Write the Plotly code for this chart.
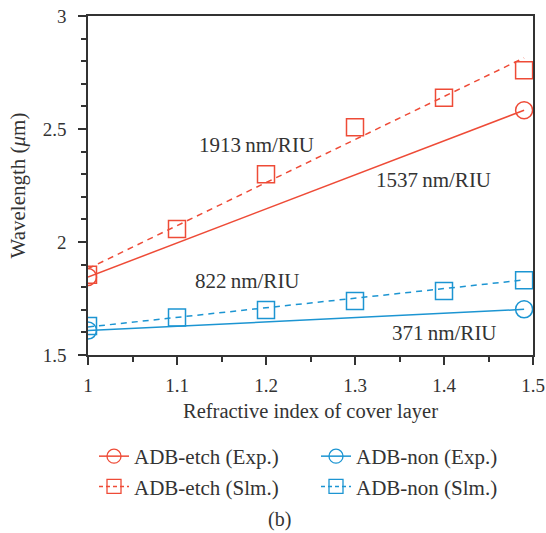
import plotly.graph_objects as go

# ---- data ----
exp_x = [1.0, 1.49]
etch_exp = [1.845, 2.583]
non_exp = [1.608, 1.702]

slm_x = [1.0, 1.1, 1.2, 1.3, 1.4, 1.49]
etch_slm = [1.855, 2.057, 2.30, 2.508, 2.638, 2.76]
non_slm = [1.628, 1.666, 1.699, 1.739, 1.783, 1.831]

fit_x = [1.0, 1.49]
etch_slm_fit = [1.882, 2.815]
non_slm_fit = [1.624, 1.832]

labels = ["1913\u2009nm/RIU", "1537\u2009nm/RIU", "822\u2009nm/RIU", "371\u2009nm/RIU"]
label_x = [1.189, 1.388, 1.179, 1.40]
label_y = [2.428, 2.274, 1.827, 1.597]

RED = "#EE4B37"
BLUE = "#1C95D2"
FONT = "Liberation Serif"
TXT = "#333333"

fig = go.Figure()

# visible marks (no legend)
fig.add_trace(go.Scatter(x=exp_x, y=etch_exp, mode="lines+markers", showlegend=False,
                         line=dict(color=RED, width=1.5),
                         marker=dict(symbol="circle-open", size=17, color=RED, line=dict(width=1.5))))
fig.add_trace(go.Scatter(x=fit_x, y=etch_slm_fit, mode="lines", showlegend=False,
                         line=dict(color=RED, width=1.5, dash="6px,5px")))
fig.add_trace(go.Scatter(x=slm_x, y=etch_slm, mode="markers", showlegend=False,
                         marker=dict(symbol="square-open", size=17, color=RED, line=dict(width=1.5))))
fig.add_trace(go.Scatter(x=exp_x, y=non_exp, mode="lines+markers", showlegend=False,
                         line=dict(color=BLUE, width=1.5),
                         marker=dict(symbol="circle-open", size=17, color=BLUE, line=dict(width=1.5))))
fig.add_trace(go.Scatter(x=fit_x, y=non_slm_fit, mode="lines", showlegend=False,
                         line=dict(color=BLUE, width=1.5, dash="6px,5px")))
fig.add_trace(go.Scatter(x=slm_x, y=non_slm, mode="markers", showlegend=False,
                         marker=dict(symbol="square-open", size=17, color=BLUE, line=dict(width=1.5))))

# legend entries
leg = [("ADB-etch (Exp.)", RED, "circle-open", "solid"),
       ("ADB-non (Exp.)", BLUE, "circle-open", "solid"),
       ("ADB-etch (Slm.)", RED, "square-open", "4px,3px"),
       ("ADB-non (Slm.)", BLUE, "square-open", "4px,3px")]
for name, col, sym, dash in leg:
    fig.add_trace(go.Scatter(x=[None], y=[None], mode="lines+markers", name=name,
                             line=dict(color=col, width=1.5, dash=dash),
                             marker=dict(symbol=sym, size=14, color=col, line=dict(width=1.3))))

for t, xx, yy in zip(labels, label_x, label_y):
    fig.add_annotation(x=xx, y=yy, text=t, showarrow=False,
                       font=dict(family=FONT, size=21, color=TXT))

fig.add_annotation(xref="paper", yref="paper", x=(279 - 88) / 445, y=(355 - 520) / 339.3,
                   xanchor="center", yanchor="middle",
                   text="(b)", showarrow=False, font=dict(family=FONT, size=20, color=TXT))

axis_common = dict(showline=True, linecolor="#333333", linewidth=1.5, mirror=True,
                   ticks="outside", ticklen=8, tickwidth=1.5, tickcolor="#333333",
                   showgrid=False, zeroline=False,
                   tickfont=dict(family=FONT, size=19, color=TXT))

fig.update_xaxes(range=[1, 1.5], tickvals=[1, 1.1, 1.2, 1.3, 1.4, 1.5],
                 ticktext=["1", "1.1", "1.2", "1.3", "1.4", "1.5"],
                 minor=dict(dtick=0.05, ticks="outside", ticklen=5, tickwidth=1.5, tickcolor="#333333"),
                 title=dict(text="Refractive index of cover layer",
                            font=dict(family=FONT, size=20.5, color=TXT), standoff=9),
                 ticklabelstandoff=4, **axis_common)
fig.update_yaxes(range=[1.5, 3], tickvals=[1.5, 2, 2.5, 3], ticktext=["1.5", "2", "2.5", "3"],
                 minor=dict(dtick=0.1, ticks="outside", ticklen=5, tickwidth=1.5, tickcolor="#333333"),
                 title=dict(text="Wavelength (<i>μ</i>m)",
                            font=dict(family=FONT, size=21, color=TXT), standoff=11),
                 ticklabelstandoff=8, **axis_common)

fig.update_layout(
    width=546, height=533,
    margin=dict(l=88, r=13, t=16, b=178, autoexpand=False),
    plot_bgcolor="white", paper_bgcolor="white",
    showlegend=True,
    legend=dict(orientation="h", xref="container", yref="container",
                x=94 / 546, y=1 - 436 / 533, xanchor="left", yanchor="top",
                entrywidth=177, entrywidthmode="pixels",
                font=dict(family=FONT, size=21, color=TXT),
                itemwidth=30, tracegroupgap=0, bgcolor="rgba(0,0,0,0)"),
)

fig.write_html("out.html")
